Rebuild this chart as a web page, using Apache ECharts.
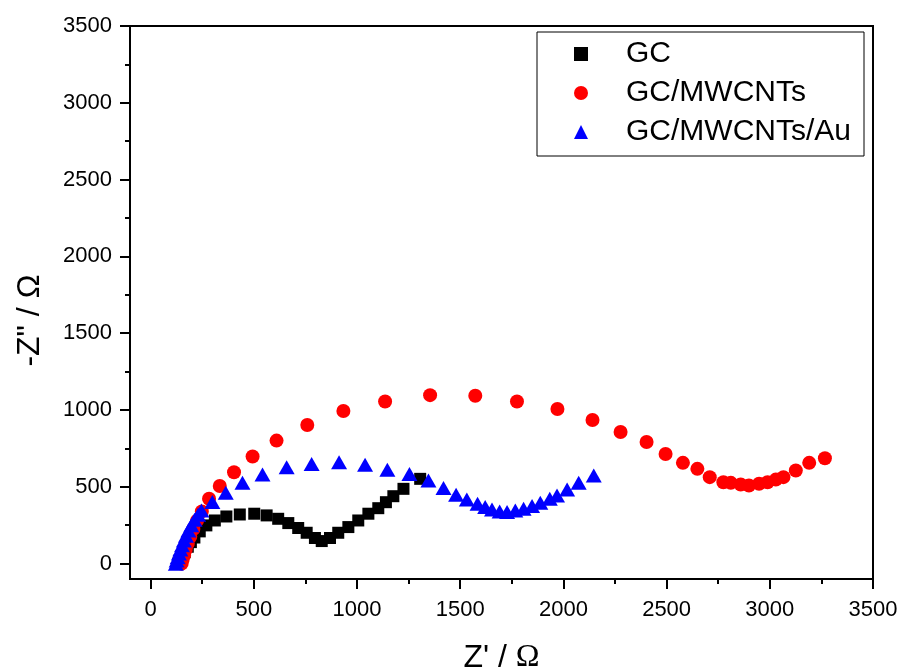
<!DOCTYPE html>
<html><head><meta charset="utf-8">
<script src="https://cdn.jsdelivr.net/npm/echarts@6/dist/echarts.min.js"></script>
<style>html,body{margin:0;padding:0;background:#fff}#c{width:902px;height:670px}</style>
</head><body><div id="c"></div>
<script>
const seriesNames = ['GC', 'GC/MWCNTs', 'GC/MWCNTs/Au'];

const gcX = [133,140,150,165,180,195,212,238,270,311,367,432,502,562,618,667,715,756,796,829,869,909,958,1006,1055,1103,1140,1176,1225,1306];
const gcY = [0,20,45,75,110,140,170,210,249,281,307,320,325,314,292,264,232,201,167,147,167,201,238,281,325,361,400,439,487,552];

const mwX = [150,155,162,170,180,192,207,225,248,283,335,404,494,610,759,934,1136,1354,1573,1775,1971,2141,2277,2403,2495,2579,2649,2709,2775,2811,2859,2899,2948,2989,3029,3066,3126,3191,3267];
const mwY = [0,25,55,90,130,175,225,280,340,422,505,595,697,801,903,994,1056,1097,1093,1056,1007,935,857,792,714,656,617,563,530,526,515,509,520,530,547,563,606,656,686];

const auX = [122,126,131,137,144,152,161,171,183,197,213,230,246,299,364,445,542,659,780,913,1039,1147,1254,1346,1419,1480,1532,1584,1621,1654,1691,1727,1767,1807,1848,1888,1934,1969,2018,2074,2147];
const auY = [0,20,42,66,92,120,150,182,215,250,285,318,346,401,461,526,580,628,649,660,643,612,584,541,492,448,418,390,368,353,340,336,346,357,375,396,422,444,482,526,573];

const axisMin = -100, axisMax = 3500;
const majorTicks = [0, 500, 1000, 1500, 2000, 2500, 3000, 3500];
const minorTicks = [250, 750, 1250, 1750, 2250, 2750, 3250];

const FF = "'Liberation Sans', Arial, sans-serif";
const pairs = (xs, ys) => xs.map((x, i) => [x, ys[i]]);

const chart = echarts.init(document.getElementById('c'), null, {renderer: 'canvas'});

function majorAxis(extra, labelMargin) {
  return Object.assign({
    type: 'value', gridIndex: 0, min: axisMin, max: axisMax,
    axisLine: {show: false, onZero: false},
    axisTick: {show: true, inside: false, length: 10, customValues: majorTicks, lineStyle: {color: '#000', width: 2}},
    axisLabel: {show: true, customValues: majorTicks, color: '#000', fontSize: 22, fontFamily: FF,
      margin: labelMargin, formatter: v => String(v)},
    splitLine: {show: false}
  }, extra);
}
function minorAxis(extra) {
  return Object.assign({
    type: 'value', gridIndex: 0, min: axisMin, max: axisMax,
    axisLine: {show: false, onZero: false},
    axisTick: {show: true, inside: false, length: 5, customValues: minorTicks, lineStyle: {color: '#000', width: 2}},
    axisLabel: {show: false},
    splitLine: {show: false}
  }, extra);
}

chart.setOption({
  animation: false,
  backgroundColor: '#fff',
  grid: [
    {left: 130, right: 29, top: 26, bottom: 91, show: true, borderColor: '#000', borderWidth: 2,
     backgroundColor: 'transparent', containLabel: false, outerBoundsMode: 'none'}
  ],
  xAxis: [
    majorAxis({position: 'bottom',
      name: "Z' / {o|Ω}", nameLocation: 'middle', nameGap: 63,
      nameTextStyle: {fontSize: 32, fontFamily: FF, color: '#000',
        rich: {o: {fontSize: 32, fontFamily: "'Liberation Serif', 'Times New Roman', serif", color: '#000'}}}}, 20),
    minorAxis({position: 'bottom'})
  ],
  yAxis: [
    majorAxis({position: 'left',
      name: '-Z" / Ω', nameLocation: 'middle', nameGap: 84, nameRotate: 90,
      nameTextStyle: {fontSize: 32, fontFamily: FF, color: '#000', padding: [0, 36, 0, 0]}}, 18),
    minorAxis({position: 'left'})
  ],
  legend: {
    orient: 'vertical', left: 537, top: 32,
    padding: [7, 13, 9, 37], itemGap: 9, itemWidth: 14, itemHeight: 14,
    borderColor: '#000', borderWidth: 1, selectedMode: false,
    textStyle: {fontSize: 30, fontFamily: FF, color: '#000', padding: [0, 0, 0, 33]},
    data: seriesNames
  },
  series: [
    {name: seriesNames[0], type: 'scatter', xAxisIndex: 0, yAxisIndex: 0, symbol: 'rect', symbolSize: 12,
     itemStyle: {color: '#000000', opacity: 1}, data: pairs(gcX, gcY)},
    {name: seriesNames[1], type: 'scatter', xAxisIndex: 0, yAxisIndex: 0, symbol: 'circle', symbolSize: 14,
     itemStyle: {color: '#ff0000', opacity: 1}, data: pairs(mwX, mwY)},
    {name: seriesNames[2], type: 'scatter', xAxisIndex: 0, yAxisIndex: 0, symbol: 'triangle', symbolSize: [16, 14],
     itemStyle: {color: '#0000ff', opacity: 1}, data: pairs(auX, auY)}
  ]
});
</script>
</body></html>
